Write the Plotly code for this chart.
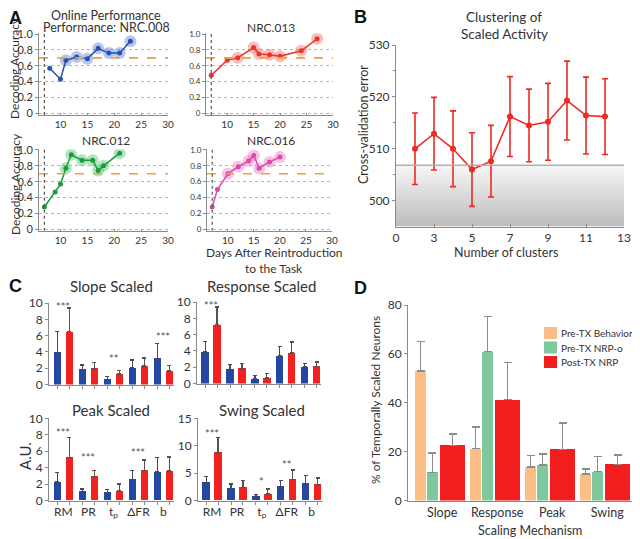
import plotly.graph_objects as go

# page has an 8px body margin: draw on a 632x531 canvas and map reference pixels by -8
OFF = 8
W, H = 640 - OFF, 539 - OFF
FONT = "Lato"
TXT = "#333333"
AX = "#8a8a8a"

# ---------------- Panel A data ----------------
A_days_008 = [8, 10, 11, 13, 15, 17, 19, 21, 23]
A_acc_008 = [0.57, 0.43, 0.67, 0.71, 0.69, 0.82, 0.76, 0.76, 0.91]
A_halo_008 = [0, 0, 1, 1, 1, 1, 1, 1, 1]
A_days_013 = [7, 10, 12, 15, 16, 18, 20, 24, 27]
A_acc_013 = [0.48, 0.67, 0.70, 0.83, 0.75, 0.74, 0.72, 0.79, 0.94]
A_halo_013 = [0, 0, 1, 1, 1, 1, 1, 1, 1]
A_days_012 = [7, 9, 10, 11, 12, 14, 16, 17, 18, 21]
A_acc_012 = [0.28, 0.47, 0.57, 0.77, 0.94, 0.87, 0.87, 0.74, 0.80, 0.96]
A_halo_012 = [0, 0, 0, 1, 1, 1, 1, 1, 1, 1]
A_days_016 = [7, 8, 10, 12, 14, 15, 16, 18, 20]
A_acc_016 = [0.28, 0.50, 0.70, 0.79, 0.86, 0.93, 0.77, 0.85, 0.91]
A_halo_016 = [0, 0, 1, 1, 1, 1, 1, 1, 1]
A_threshold = 0.7
A_start_day = 7
A_xticks = [10, 15, 20, 25, 30]
A_yticks = [0, 0.2, 0.4, 0.6, 0.8, 1.0]
A_yticktext = ["0", "0.2", "0.4", "0.6", "0.8", "1.0"]

# ---------------- Panel B data ----------------
B_clusters = [2, 3, 4, 5, 6, 7, 8, 9, 10, 11, 12]
B_error = [510.0, 512.9, 510.0, 506.0, 507.6, 516.2, 514.5, 515.2, 519.3, 516.4, 516.2]
B_sem = [6.9, 7.0, 7.3, 7.1, 6.9, 7.7, 7.0, 7.4, 7.6, 7.4, 7.3]
B_band_top = 506.8
B_xticks = [1, 3, 5, 7, 9, 11, 13]
B_xticktext = ["0", "3", "5", "7", "9", "11", "13"]

# ---------------- Panel C data ----------------
C_params = ["RM", "PR", "t<sub>p</sub>", "ΔFR", "b"]
slope_blue = [3.95, 1.85, 0.62, 2.06, 3.20]
slope_blue_err = [2.55, 0.55, 0.33, 0.94, 1.86]
slope_red = [6.50, 2.00, 1.28, 2.26, 1.65]
slope_red_err = [2.90, 0.70, 0.42, 0.99, 0.65]
slope_stars = [(0, "***", 9.9), (2, "**", 3.6), (4, "***", 6.3)]

response_blue = [3.88, 1.76, 0.61, 3.39, 2.08]
response_blue_err = [1.30, 0.61, 0.33, 1.14, 0.37]
response_red = [7.22, 1.88, 0.69, 3.76, 2.12]
response_red_err = [2.18, 0.57, 0.53, 1.34, 0.53]
response_stars = [(0, "***", 10.0)]

peak_blue = [2.24, 1.06, 0.94, 2.53, 3.47]
peak_blue_err = [1.19, 0.33, 0.37, 1.14, 1.75]
peak_red = [5.22, 2.90, 1.18, 3.67, 3.59]
peak_red_err = [2.45, 0.77, 0.82, 1.27, 1.71]
peak_stars = [(0, "***", 8.65), (1, "***", 5.6), (3, "***", 6.2)]

swing_blue = [3.27, 2.24, 0.73, 2.55, 3.15]
swing_blue_err = [1.09, 0.79, 0.42, 1.15, 1.45]
swing_red = [8.80, 2.42, 1.21, 3.88, 2.90]
swing_red_err = [2.65, 1.22, 0.91, 1.70, 1.22]
swing_stars = [(0, "***", 12.85), (2, "*", 4.06), (3, "**", 7.1)]

# ---------------- Panel D data ----------------
D_mech = ["Slope", "Response", "Peak", "Swing"]
D_pre_behavior = [53.0, 21.2, 13.7, 10.9]
D_pre_behavior_err = [12.0, 8.9, 4.6, 2.0]
D_pre_nrpo = [11.5, 60.9, 14.5, 11.8]
D_pre_nrpo_err = [7.9, 14.5, 4.5, 6.3]
D_post_nrp = [22.6, 41.3, 20.9, 14.8]
D_post_nrp_err = [4.6, 15.3, 10.8, 3.8]
D_names = ["Pre-TX Behavior", "Pre-TX NRP-o", "Post-TX NRP"]

# ---------------- helpers (reference pixel -> paper) ----------------
def px(x):
    return (x - OFF) / W

def py(y):
    return 1 - (y - OFF) / H

def dx(x0, x1):
    return [px(x0), px(x1)]

def dy(top, bottom):
    return [py(bottom), py(top)]

def axn(idx):
    s = "" if idx == 1 else str(idx)
    return f"x{s}", f"y{s}", f"xaxis{s}", f"yaxis{s}"

fig = go.Figure()
layout = {}
annotations = []
shapes = []

def ann(text, xp, yp, size=12, bold=False, rot=0, color=TXT, **kw):
    annotations.append(dict(
        text=f"<b>{text}</b>" if bold else text, x=px(xp), y=py(yp),
        xref="paper", yref="paper", showarrow=False, textangle=rot,
        font=dict(family=FONT if not bold else "Arial", size=size, color=color),
        xanchor="center", yanchor="middle", **kw))

def axis_base(**kw):
    d = dict(showline=True, linecolor=AX, linewidth=1, ticks="outside", ticklen=3,
             tickcolor=AX, showgrid=False, zeroline=False, automargin=False,
             tickfont=dict(family=FONT, size=11, color=TXT))
    d.update(kw)
    return d

# ---------------- Panel A ----------------
A_specs = [
    (1, A_days_008, A_acc_008, A_halo_008, "#2B4FAE", "rgba(90,130,215,0.45)", (39, 168), (33.3, 114.9), 11),
    (2, A_days_013, A_acc_013, A_halo_013, "#E8352B", "rgba(245,110,100,0.45)", (206, 333), (33.3, 114.9), 8),
    (3, A_days_012, A_acc_012, A_halo_012, "#1E9A3C", "rgba(80,200,110,0.45)", (39, 168), (149.2, 230.8), 11),
    (4, A_days_016, A_acc_016, A_halo_016, "#D94AA6", "rgba(240,120,200,0.45)", (207, 332), (149.2, 230.8), 8),
]
for idx, days, acc, halo, col, hcol, xd, yd, yfs in A_specs:
    xa, ya, xk, yk = axn(idx)
    hx = [d for d, h in zip(days, halo) if h]
    hy = [a for a, h in zip(acc, halo) if h]
    fig.add_trace(go.Scatter(x=hx, y=hy, mode="markers", xaxis=xa, yaxis=ya,
                             marker=dict(size=12, color=hcol, line=dict(width=0)),
                             showlegend=False, hoverinfo="skip"))
    fig.add_trace(go.Scatter(x=days, y=acc, mode="lines+markers", xaxis=xa, yaxis=ya,
                             line=dict(color=col, width=1.5),
                             marker=dict(size=5, color=col), showlegend=False))
    layout[xk] = axis_base(domain=dx(*xd), range=[6, 30], tickvals=A_xticks,
                           anchor=ya, ticks="inside", ticklen=2,
                           tickfont=dict(family=FONT, size=10, color=TXT))
    layout[yk] = axis_base(domain=dy(*yd), range=[-0.02, 1.01], tickvals=A_yticks,
                           ticktext=A_yticktext, anchor=xa, showgrid=True,
                           gridcolor="#b5b5b5", griddash="dot", gridwidth=1,
                           tickfont=dict(family=FONT, size=yfs, color=TXT))
    shapes.append(dict(type="line", xref=f"{xa} domain", yref=ya, x0=0, x1=1,
                       y0=A_threshold, y1=A_threshold,
                       line=dict(color="#F0A040", width=1.6, dash="dash")))
    shapes.append(dict(type="line", xref=xa, yref=ya, x0=A_start_day, x1=A_start_day,
                       y0=-0.02, y1=1.01, line=dict(color="#555555", width=1.2, dash="dot")))

ann("A", 15, 18, size=18, bold=True, color="#111")
ann("Online Performance", 106, 15, size=12.5)
ann("Performance: NRC.008", 106, 28, size=12.5)
ann("NRC.013", 271, 28, size=12)
ann("NRC.012", 106, 140, size=12)
ann("NRC.016", 271, 140, size=12)
ann("Decoding Accuracy", 15, 68, size=12, rot=-90)
ann("Decoding Accuracy", 15, 184, size=12, rot=-90)
ann("Days After Reintroduction", 274, 253, size=12)
ann("to the Task", 274, 268, size=12)

# ---------------- Panel B ----------------
fig.add_trace(go.Scatter(x=[1, 13, 13, 1, 1], y=[495, 495, B_band_top, B_band_top, 495],
                         xaxis="x5", yaxis="y5", mode="lines", fill="toself",
                         line=dict(width=0),
                         fillgradient=dict(type="vertical",
                                           colorscale=[[0, "#bcbcbc"], [1, "#f6f6f6"]]),
                         showlegend=False, hoverinfo="skip"))
shapes.append(dict(type="line", xref="x5 domain", yref="y5", x0=0, x1=1,
                   y0=B_band_top, y1=B_band_top, line=dict(color="#b0b0b0", width=1.5)))
fig.add_trace(go.Scatter(x=B_clusters, y=B_error, xaxis="x5", yaxis="y5",
                         mode="lines+markers", line=dict(color="#EE2A24", width=1.6),
                         marker=dict(size=6, color="#EE2A24"),
                         error_y=dict(type="data", array=B_sem, color="#EE2A24",
                                      thickness=1.6, width=3),
                         showlegend=False))
layout["xaxis5"] = axis_base(domain=dx(396, 624), range=[1, 13], tickvals=B_xticks,
                             ticktext=B_xticktext, anchor="y5", ticks="inside", ticklen=3,
                             tickfont=dict(family=FONT, size=12, color=TXT))
layout["yaxis5"] = axis_base(domain=dy(45, 226.6), range=[495, 530],
                             tickvals=[500, 510, 520, 530], anchor="x5",
                             minor=dict(tickvals=[505, 515, 525], ticks="outside",
                                        ticklen=2, tickcolor=AX),
                             tickfont=dict(family=FONT, size=12, color=TXT))
ann("B", 360, 17, size=18, bold=True, color="#111")
ann("Clustering of", 504, 17, size=13.5)
ann("Scaled Activity", 504, 34, size=13.5)
ann("Cross-validation error", 364, 125, size=12.5, rot=-90)
ann("Number of clusters", 506, 253, size=12.5)

# ---------------- Panel C ----------------
BLUE = "#2347A3"
RED = "#F0211E"
C_specs = [
    (6, slope_blue, slope_blue_err, slope_red, slope_red_err, slope_stars,
     (49, 174), (303, 384.5), [0, 10], [0, 2, 4, 6, 8, 10], False, "Slope Scaled", 111, 286),
    (7, response_blue, response_blue_err, response_red, response_red_err, response_stars,
     (197, 321), (302, 383.5), [0, 10], [0, 2, 4, 6, 8, 10], False, "Response Scaled", 262, 286),
    (8, peak_blue, peak_blue_err, peak_red, peak_red_err, peak_stars,
     (49, 174), (418.3, 500.5), [0, 10], [0, 2, 4, 6, 8, 10], True, "Peak Scaled", 111, 410),
    (9, swing_blue, swing_blue_err, swing_red, swing_red_err, swing_stars,
     (198, 322), (418.3, 500.5), [0, 15], [0, 5, 10, 15], True, "Swing Scaled", 262, 410),
]
for idx, vb, eb, vr, er, stars, xd, yd, yr, yt, lab, title, tx, ty in C_specs:
    xa, ya, xk, yk = axn(idx)
    pos = list(range(len(C_params)))
    fig.add_trace(go.Bar(x=[p - 0.24 for p in pos], y=vb, width=0.3, xaxis=xa, yaxis=ya,
                         marker=dict(color=BLUE, line=dict(width=0)),
                         error_y=dict(type="data", array=eb, arrayminus=[0] * len(eb),
                                      symmetric=False, color="#444a5a", thickness=1.3, width=2),
                         showlegend=False))
    fig.add_trace(go.Bar(x=[p + 0.24 for p in pos], y=vr, width=0.3, xaxis=xa, yaxis=ya,
                         marker=dict(color=RED, line=dict(width=0)),
                         error_y=dict(type="data", array=er, arrayminus=[0] * len(er),
                                      symmetric=False, color="#5a5050", thickness=1.3, width=2),
                         showlegend=False))
    layout[xk] = axis_base(domain=dx(*xd), range=[-0.57, 4.42], anchor=ya,
                           tickvals=pos, ticktext=C_params, showticklabels=lab,
                           ticks="", ticklen=0,
                           minor=dict(tickvals=[p + s for p in pos for s in (-0.24, 0.24)],
                                      ticks="outside", ticklen=3, tickcolor=AX),
                           tickfont=dict(family=FONT, size=12, color=TXT))
    layout[yk] = axis_base(domain=dy(*yd), range=yr, tickvals=yt, anchor=xa,
                           tickfont=dict(family=FONT, size=12, color=TXT))
    for g, s, yv in stars:
        annotations.append(dict(text=s, x=g, y=yv, xref=xa, yref=ya, showarrow=False,
                                font=dict(family=FONT, size=11, color="#555"),
                                xanchor="center", yanchor="middle", yshift=-3))
    ann(title, tx, ty, size=15)

ann("C", 15, 286, size=18, bold=True, color="#111")
ann("A.U.", 25, 456, size=15, rot=-90)

# ---------------- Panel D ----------------
D_colors = ["#FBBE86", "#7FC79C", "#F11D1E"]
D_offsets = [-0.39, -0.175, 0.19]
D_widths = [0.2, 0.21, 0.45]
D_vals = [D_pre_behavior, D_pre_nrpo, D_post_nrp]
D_errs = [D_pre_behavior_err, D_pre_nrpo_err, D_post_nrp_err]
for name, col, off, wd, vals, errs in zip(D_names, D_colors, D_offsets, D_widths, D_vals, D_errs):
    fig.add_trace(go.Bar(x=[i + off for i in range(len(D_mech))], y=vals, width=wd,
                         xaxis="x10", yaxis="y10", name=name,
                         marker=dict(color=col, line=dict(width=0)),
                         error_y=dict(type="data", array=errs, arrayminus=[0] * len(errs),
                                      symmetric=False, color="#8c8c8c", thickness=1.3, width=4),
                         showlegend=False))
layout["xaxis10"] = axis_base(domain=dx(408, 632), range=[-0.62, 3.45], anchor="y10",
                              tickvals=list(range(len(D_mech))), ticktext=D_mech, ticks="",
                              tickfont=dict(family=FONT, size=12.5, color=TXT))
layout["yaxis10"] = axis_base(domain=dy(305, 500.5), range=[0, 80],
                              tickvals=[0, 20, 40, 60, 80], anchor="x10",
                              tickfont=dict(family=FONT, size=12, color=TXT))
# legend (manual)
for k, (name, col) in enumerate(zip(D_names, D_colors)):
    yc = 333 + 14.5 * k
    shapes.append(dict(type="rect", xref="paper", yref="paper",
                       x0=px(544), x1=px(557), y0=py(yc + 6), y1=py(yc - 6),
                       fillcolor=col, line=dict(width=0)))
    annotations.append(dict(text=name, x=px(559), y=py(yc), xref="paper", yref="paper",
                            showarrow=False, xanchor="left", yanchor="middle",
                            font=dict(family=FONT, size=10, color=TXT)))
ann("D", 360, 288, size=18, bold=True, color="#111")
ann("% of Temporally Scaled Neurons", 375, 400, size=12, rot=-90)
ann("Scaling Mechanism", 530, 530, size=12.5)

fig.update_layout(width=W, height=H, margin=dict(l=0, r=0, t=0, b=0),
                  paper_bgcolor="white", plot_bgcolor="rgba(0,0,0,0)",
                  barmode="overlay", bargap=0, showlegend=False,
                  font=dict(family=FONT, color=TXT),
                  annotations=annotations, shapes=shapes, **layout)
fig.write_html("out.html")
